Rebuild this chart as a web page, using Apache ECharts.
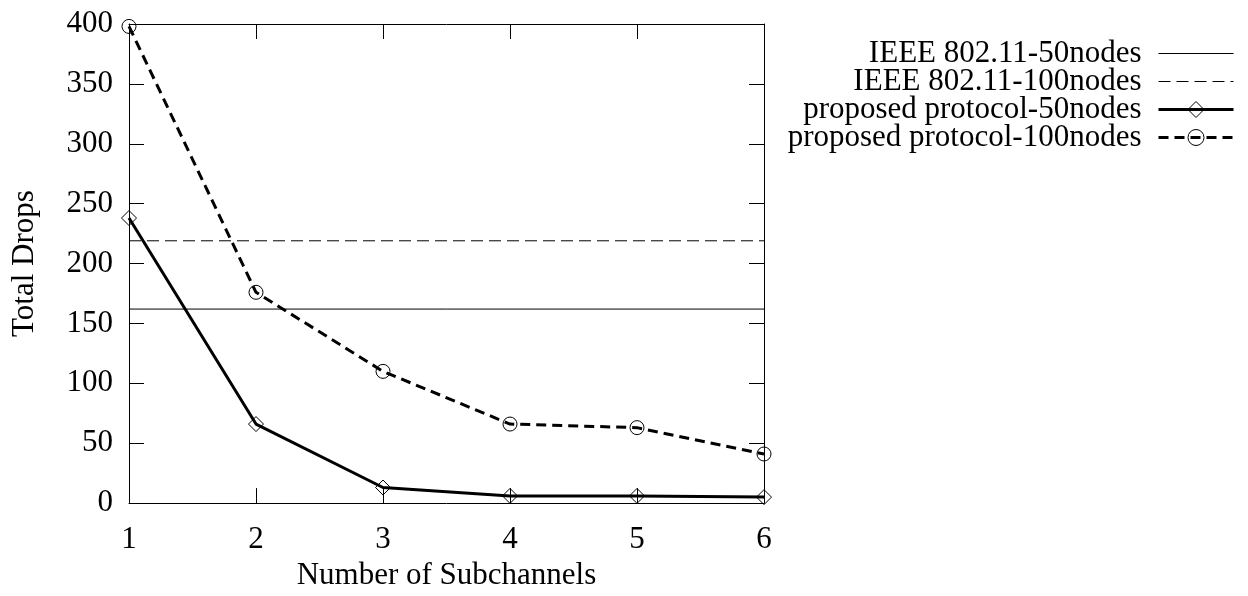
<!DOCTYPE html>
<html>
<head>
<meta charset="utf-8">
<script src="https://cdn.jsdelivr.net/npm/echarts@6/dist/echarts.min.js"></script>
<style>
  html, body { margin: 0; padding: 0; background: #fff; }
  #chart { width: 1248px; height: 596px; }
</style>
</head>
<body>
<div id="chart"></div>
<script>
// Total packet drops versus number of subchannels
const subchannels = [1, 2, 3, 4, 5, 6];
const proposed50 = [238, 66, 13, 6, 6, 5];
const proposed100 = [398, 176, 110, 66, 63, 41];
const ieee50 = [162, 162];     // flat reference level across the range
const ieee100 = [219, 219];
const yTicks = { min: 0, max: 400, interval: 50 };

const FONT = 'Liberation Serif';
const FS = 31;

const pairs = (ys) => ys.map((y, i) => [subchannels[i], y]);
const flat = (ys) => [[subchannels[0], ys[0]], [subchannels[subchannels.length - 1], ys[1]]];

const tickStyle = { show: true, inside: true, length: 15, lineStyle: { color: '#000', width: 1 } };
const axisLine = { show: true, onZero: false, lineStyle: { color: '#000', width: 1 } };

const thinDash = [12, 6];
const thickDash = [10, 6];
const noSymbol = { color: 'rgba(0,0,0,0)', borderColor: 'rgba(0,0,0,0)', borderWidth: 0, opacity: 0 };
const hollow = { color: 'rgba(255,255,255,0)', borderColor: '#000', borderWidth: 1 };

const chart = echarts.init(document.getElementById('chart'), null, { renderer: 'canvas' });
chart.setOption({
  animation: false,
  backgroundColor: '#fff',
  textStyle: { fontFamily: FONT },
  grid: { left: 129, right: 484, top: 24, bottom: 87, containLabel: false },
  legend: {
    orient: 'vertical',
    right: 13,
    top: 38,
    padding: 0,
    itemGap: -3,
    align: 'right',
    itemWidth: 75,
    itemHeight: 20,
    selectedMode: false,
    textStyle: {
      fontFamily: FONT, fontSize: FS, color: '#000',
      width: 370, align: 'right', lineHeight: 28.3, padding: [0, 12, 0, 0]
    },
    data: [
      { name: 'IEEE 802.11-50nodes', itemStyle: noSymbol, lineStyle: { color: '#000', width: 1, type: 'solid' } },
      { name: 'IEEE 802.11-100nodes', itemStyle: noSymbol, lineStyle: { color: '#000', width: 1, type: thinDash } },
      { name: 'proposed protocol-50nodes', itemStyle: hollow, lineStyle: { color: '#000', width: 3, type: 'solid' } },
      { name: 'proposed protocol-100nodes', itemStyle: hollow, lineStyle: { color: '#000', width: 3, type: thickDash } }
    ]
  },
  xAxis: [
    {
      type: 'value', min: 1, max: 6, interval: 1,
      name: 'Number of Subchannels', nameLocation: 'middle', nameGap: 55,
      nameTextStyle: { fontFamily: FONT, fontSize: FS, color: '#000' },
      axisLine, axisTick: tickStyle, splitLine: { show: false },
      axisLabel: { fontFamily: FONT, fontSize: FS, color: '#000', margin: 21 }
    },
    {
      type: 'value', min: 1, max: 6, interval: 1, position: 'top',
      axisLine, axisTick: tickStyle, splitLine: { show: false },
      axisLabel: { show: false }
    }
  ],
  yAxis: [
    {
      type: 'value', min: yTicks.min, max: yTicks.max, interval: yTicks.interval,
      name: 'Total Drops', nameLocation: 'middle', nameGap: 89, nameRotate: 90,
      nameTextStyle: { fontFamily: FONT, fontSize: FS, color: '#000' },
      axisLine, axisTick: tickStyle, splitLine: { show: false },
      axisLabel: { fontFamily: FONT, fontSize: FS, color: '#000', margin: 16 }
    },
    {
      type: 'value', min: yTicks.min, max: yTicks.max, interval: yTicks.interval, position: 'right',
      axisLine, axisTick: tickStyle, splitLine: { show: false },
      axisLabel: { show: false }
    }
  ],
  series: [
    {
      name: 'IEEE 802.11-50nodes', type: 'line', data: flat(ieee50),
      symbol: 'none', clip: false,
      lineStyle: { color: '#000', width: 1, type: 'solid' },
      itemStyle: { color: '#000' }
    },
    {
      name: 'IEEE 802.11-100nodes', type: 'line', data: flat(ieee100),
      symbol: 'none', clip: false,
      lineStyle: { color: '#000', width: 1, type: thinDash },
      itemStyle: { color: '#000' }
    },
    {
      name: 'proposed protocol-50nodes', type: 'line', data: pairs(proposed50),
      symbol: 'diamond', symbolSize: 15, clip: false,
      lineStyle: { color: '#000', width: 3, type: 'solid' },
      itemStyle: hollow
    },
    {
      name: 'proposed protocol-100nodes', type: 'line', data: pairs(proposed100),
      symbol: 'circle', symbolSize: 14, clip: false,
      lineStyle: { color: '#000', width: 3, type: thickDash },
      itemStyle: hollow
    }
  ]
});
</script>
</body>
</html>
